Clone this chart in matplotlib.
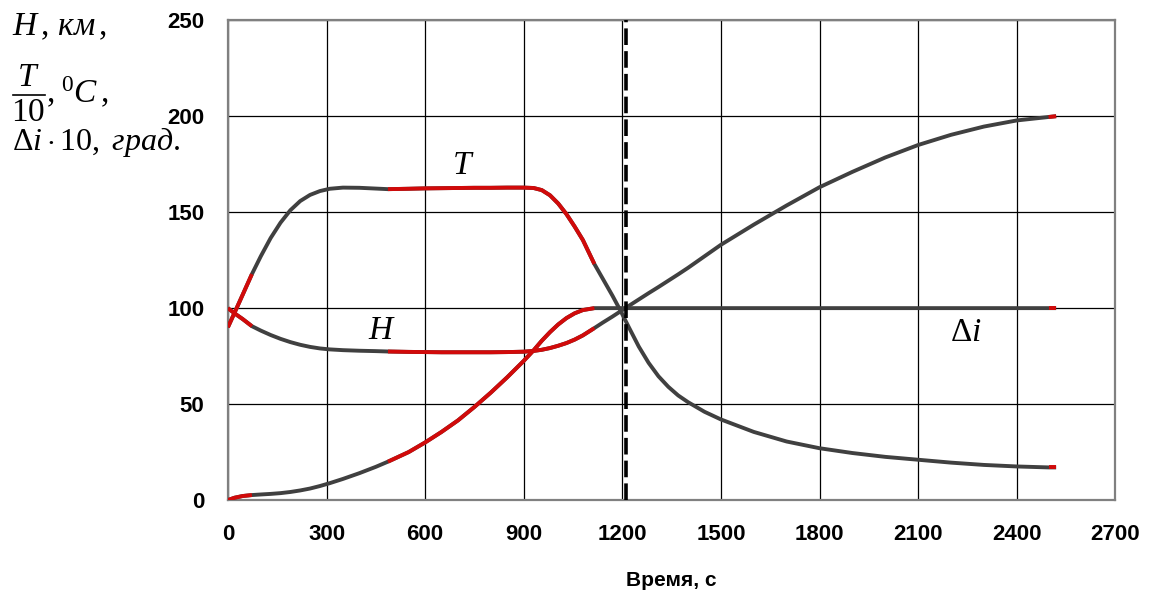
import matplotlib
matplotlib.use("Agg")
import matplotlib.pyplot as plt
from matplotlib.lines import Line2D

plt.rcParams['mathtext.fontset'] = 'custom'
plt.rcParams['mathtext.rm'] = 'Liberation Serif'
plt.rcParams['mathtext.it'] = 'Liberation Serif:italic'

# time, s
t = [0, 20, 45, 73, 100, 130, 160, 190, 220, 250, 280, 310, 350, 400, 450, 487,
     550, 600, 650, 700, 750, 800, 850, 900, 930, 955, 980, 1005, 1030, 1055, 1080, 1115,
     1140, 1170, 1195, 1220, 1250, 1280, 1310, 1340, 1370, 1400, 1450, 1500, 1600,
     1700, 1800, 1900, 2000, 2100, 2200, 2300, 2400, 2497, 2520]

# altitude H, km
h = [100, 97.3, 94.3, 90.6, 88.3, 86, 84, 82.3, 80.9, 79.8, 79, 78.5, 78.1, 77.8, 77.6, 77.4,
     77.2, 77.1, 77, 77, 77, 77, 77.1, 77.3, 77.7, 78.3, 79.2, 80.4, 81.8, 83.6, 85.8, 89.6,
     92.4, 95.6, 98.4, 101.2, 104.5, 107.8, 111, 114.3, 117.6, 121, 127, 133, 143.5,
     153.5, 163, 171, 178.5, 185, 190.3, 194.6, 197.8, 199.6, 200]

# temperature T/10
temp = [90, 97.5, 107, 117.7, 127, 136.5, 144.5, 151, 155.8, 159, 161, 162.2, 162.8, 162.7, 162.3, 162,
        162.2, 162.4, 162.5, 162.6, 162.7, 162.7, 162.8, 162.8, 162.6, 161.5, 158.8, 154.5, 149, 142.5, 135.5, 123,
        115.5, 106.5, 98.5, 90, 80, 71.5, 64.5, 59, 54.5, 51, 46, 42, 35.5,
        30.5, 27, 24.5, 22.5, 21, 19.5, 18.3, 17.5, 17, 17]

# inclination change di*10
di = [0, 1.2, 2.1, 2.6, 2.9, 3.2, 3.6, 4.2, 5, 6, 7.3, 8.8, 11, 14, 17.3, 20,
      25, 30, 35.5, 41.5, 48.5, 56, 64, 72.5, 78, 83, 87.5, 91.5, 94.8, 97.3, 99, 100,
      100, 100, 100, 100, 100, 100, 100, 100, 100, 100, 100, 100, 100,
      100, 100, 100, 100, 100, 100, 100, 100, 100, 100]

t_switch = 1210
xticks = list(range(0, 2701, 300))
yticks = list(range(0, 251, 50))

red = '#d10a0a'
gray = '#404040'

fig = plt.figure(figsize=(11.51, 5.96), dpi=100)
ax = fig.add_axes([0.198, 0.161, 0.771, 0.805])

# red pieces: 0..73 s, 487..1115 s, 2497..2520 s
segs = [(0, 4), (15, 32), (53, 55)]
for y in (h, temp, di):
    ax.plot(t, y, color=gray, lw=2.8, solid_capstyle='butt', zorder=3)
    for a, b in segs:
        ax.plot(t[a:b], y[a:b], color=red, lw=2.8, solid_capstyle='butt', zorder=4)

ax.axvline(t_switch, color='black', lw=2.6, dashes=(4.6, 1.7), zorder=5)

ax.set_xlim(0, 2700)
ax.set_ylim(0, 250)
ax.set_xticks(xticks)
ax.set_yticks(yticks)
ax.grid(True, color='black', lw=0.9)
ax.set_axisbelow(True)
ax.tick_params(length=0, pad=17)
for lab in ax.get_xticklabels() + ax.get_yticklabels():
    lab.set_fontfamily('Liberation Sans')
    lab.set_fontweight('bold')
    lab.set_fontsize(16)
for s in ax.spines.values():
    s.set_color('#808080')
    s.set_linewidth(1.6)

ax.set_xlabel('Время, с', fontfamily='Liberation Sans', fontweight='bold',
              fontsize=15, labelpad=19)

serif = dict(fontfamily='Liberation Serif', fontstyle='italic', fontsize=24)
ax.text(713, 174, 'T', ha='center', va='center', **serif)
ax.text(463, 88, 'H', ha='center', va='center', **serif)
ax.text(2245, 88, r'$\Delta i$', ha='center', va='center', fontsize=24)

# axis title in the upper left corner
W, H = 1151, 596
fig.text(12 / W, 1 - 35 / H, r'$H\,,\,км\,,$', ha='left', va='baseline', fontsize=24)
fig.text(28 / W, 1 - 86 / H, r'$T$', ha='center', va='baseline', fontsize=24)
fig.add_artist(Line2D([13 / W, 45 / W], [1 - 95 / H, 1 - 95 / H], color='black', lw=1.2))
fig.text(28 / W, 1 - 121 / H, r'$\mathrm{10}$', ha='center', va='baseline', fontsize=24)
fig.text(46 / W, 1 - 103 / H, r'$\mathrm{,}\;{}^{0}C\,,$', ha='left', va='baseline', fontsize=24)
fig.text(12 / W, 1 - 150 / H, r'$\Delta i\cdot\mathrm{10,}\ град.$', ha='left', va='baseline', fontsize=23)

fig.savefig('out.png', dpi=100)
